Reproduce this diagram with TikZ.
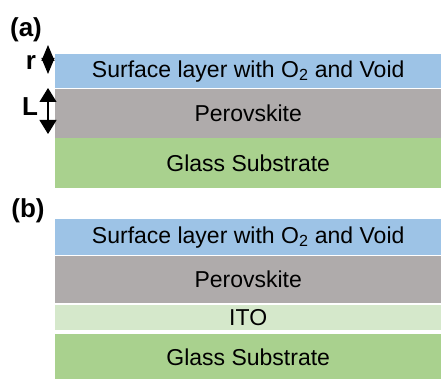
\documentclass[tikz,border=0pt]{standalone}
\usepackage{fontspec}
\setmainfont{Liberation Sans}
\usetikzlibrary{positioning,arrows.meta}
\definecolor{surfblue}{HTML}{9DC3E6}
\definecolor{perogray}{HTML}{AFABAB}
\definecolor{glassgreen}{HTML}{A9D18E}
\definecolor{itogreen}{HTML}{D5E8CB}

\begin{document}
\begin{tikzpicture}[x=1pt,y=1pt,node distance=0pt,
  layer/.style={rectangle,minimum width=386pt,inner sep=0pt,font=\fontsize{23}{27}\selectfont},
  tag/.style={font=\fontsize{26}{30}\selectfont\bfseries},
  thick arrow/.style 2 args={{Triangle[length=#1,width=#2]}-{Triangle[length=#1,width=#2]}}]
\useasboundingbox (0,0) rectangle (441,378);

% the layers of (a)
\node[layer,fill=surfblue,minimum height=34pt,anchor=north west] (sa) at (55,324) {Surface layer with O\textsubscript{2} and Void};
\node[layer,fill=perogray,minimum height=49pt,below=of sa] (pa) {Perovskite};
\node[layer,fill=glassgreen,minimum height=50pt,below=of pa] (ga) {Glass Substrate};

% the layers of (b)
\node[layer,fill=surfblue,minimum height=36pt,anchor=north west] (sb) at (55,159) {Surface layer with O\textsubscript{2} and Void};
\node[layer,fill=perogray,minimum height=47pt,below=of sb] (pb) {Perovskite};
\node[layer,fill=itogreen,minimum height=25pt,below=2pt of pb] (ib) {ITO};
\node[layer,fill=glassgreen,minimum height=45pt,below=4pt of ib] (gb) {Glass Substrate};

% the thickness arrows and labels
\coordinate (rtop) at (48,333);
\coordinate (rbot) at (48,304);
\coordinate (Ltop) at (48,290);
\coordinate (Lbot) at (48,244);
\draw[thick arrow={16pt}{13pt},line width=1.2pt] (rtop) -- (rbot);
\draw[thick arrow={14pt}{17pt},line width=1.2pt] (Ltop) -- (Lbot);
\node[tag] (r) at (31,315) {r};
\node[tag] (L) at (30,271) {L};
\node[tag] (a) at (26,348) {(a)};
\node[tag] (b) at (28,167) {(b)};
\end{tikzpicture}
\end{document}
